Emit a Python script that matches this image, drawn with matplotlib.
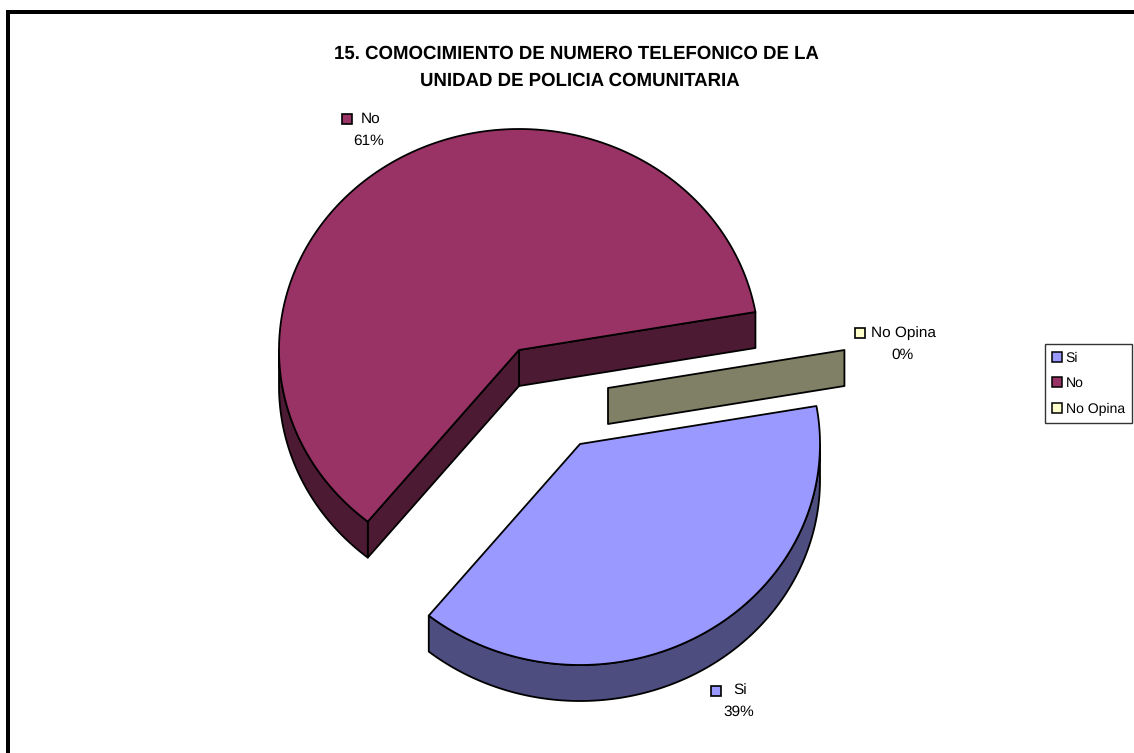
import numpy as np
import matplotlib
matplotlib.use("Agg")
import matplotlib.pyplot as plt
from matplotlib.patches import Polygon, Rectangle, Patch

plt.rcParams['font.family'] = ['Liberation Sans', 'DejaVu Sans']
plt.rcParams['text.hinting'] = 'no_hinting'

title_lines = ["15. COMOCIMIENTO DE NUMERO TELEFONICO DE LA", "UNIDAD DE POLICIA COMUNITARIA"]
categories = ["Si", "No", "No Opina"]
values = [38.6, 61.4, 0.0]
top_colors = ["#9999FF", "#993366", "#FFFFCC"]
side_colors = ["#4D4D80", "#4D1A33", "#808066"]

# layout in image pixels
start_angle = 9.9  # first slice starts here and goes clockwise
rx, ry, depth = 240, 221, 36
centers = [(580, 444), (519, 350), (608, 388)]
title_pos = [(576, 54), (579.5, 81)]
name_pos = [(740, 691), (371, 119), (903, 333.5)]
pct_pos = [(739, 712), (369, 141), (903, 355)]
marker_x = [716, 347, 860]


def arc(cx, cy, a0, a1):
    n = max(2, int(abs(a1 - a0)) * 2)
    t = np.radians(np.linspace(a0, a1, n))
    return np.column_stack([cx + rx * np.cos(t), cy - ry * np.sin(t)])


def draw_slice(ax, center, a_lo, a_hi, top, side):
    """Slice between two angles in degrees, a_lo < a_hi, with the walls you can see"""
    cx, cy = center
    kw = dict(edgecolor="black", linewidth=1.3, joinstyle="round")

    # radial walls: right end shows if it points right, left end if it points left
    for ang, sign in ((a_lo, 1), (a_hi, -1)):
        if sign * np.cos(np.radians(ang)) > 0:
            rim = arc(cx, cy, ang, ang)[0]
            wall = [(cx, cy), rim, rim + [0, depth], (cx, cy + depth)]
            ax.add_patch(Polygon(wall, closed=True, facecolor=side, **kw))

    # outer rim, front half of the ellipse only
    for front_lo, front_hi in ((-180, 0), (180, 360)):
        lo, hi = max(a_lo, front_lo), min(a_hi, front_hi)
        if hi > lo:
            upper = arc(cx, cy, lo, hi)
            lower = upper + [0, depth]
            ax.add_patch(Polygon(np.vstack([upper, lower[::-1]]), closed=True,
                                 facecolor=side, **kw))

    # top face
    if a_hi - a_lo > 0.01:
        pts = np.vstack([[(cx, cy)], arc(cx, cy, a_lo, a_hi)])
        ax.add_patch(Polygon(pts, closed=True, facecolor=top, **kw))


def main():
    fig = plt.figure(figsize=(11.34, 7.53), dpi=100)
    ax = fig.add_axes([0, 0, 1, 1])
    ax.set_xlim(0, 1134)
    ax.set_ylim(753, 0)
    ax.axis("off")

    # thick frame, only top and left are inside the picture
    ax.add_patch(Rectangle((6, 10), 1128, 4, facecolor="black", edgecolor="none"))
    ax.add_patch(Rectangle((6, 10), 4, 743, facecolor="black", edgecolor="none"))

    for line, pos in zip(title_lines, title_pos):
        ax.text(*pos, line, ha="center", va="center", fontsize=13.4, fontweight="bold")

    # slice angles, clockwise from the start angle
    spans = np.array(values) / sum(values) * 360
    highs = start_angle - np.concatenate([[0], np.cumsum(spans)[:-1]])
    lows = highs - spans

    for i in (1, 2, 0):
        # keep the No slice in 0..360 so it runs over the top of the pie
        shift = 360 if lows[i] < -180 else 0
        draw_slice(ax, centers[i], lows[i] + shift, highs[i] + shift,
                   top_colors[i], side_colors[i])

    # data labels
    for i, cat in enumerate(categories):
        ax.text(*name_pos[i], cat, ha="center", va="center", fontsize=11.1)
        ax.text(*pct_pos[i], f"{values[i]:.0f}%", ha="center", va="center", fontsize=11.1)
        ax.add_patch(Rectangle((marker_x[i] - 5, name_pos[i][1] - 5.5), 10, 10,
                               facecolor=top_colors[i], edgecolor="black", linewidth=1.2))

    handles = [Patch(facecolor=c, edgecolor="black", linewidth=1.1) for c in top_colors]
    leg = ax.legend(handles, categories, loc="center left", bbox_to_anchor=(1045, 383.5),
                    bbox_transform=ax.transData, fontsize=10.1, frameon=True, fancybox=False,
                    framealpha=1, edgecolor="#333333", handlelength=0.72, handleheight=0.72,
                    handletextpad=0.25, labelspacing=0.9, borderpad=0.5, borderaxespad=0)
    leg.get_frame().set_linewidth(1.0)

    fig.savefig("out.png", dpi=100)


if __name__ == "__main__":
    main()
